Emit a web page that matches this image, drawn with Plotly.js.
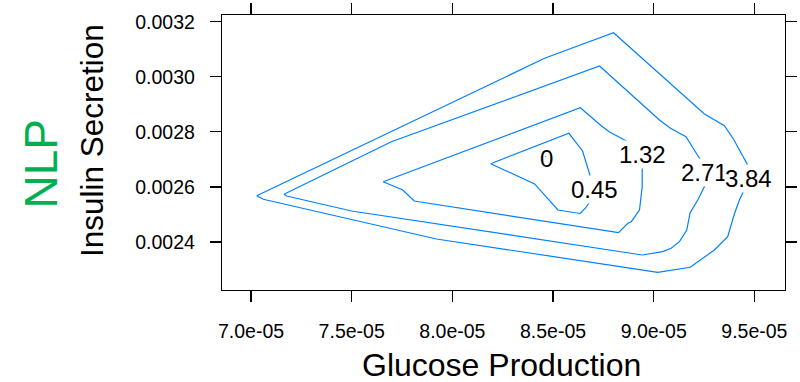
<!DOCTYPE html>
<html>
<head>
<meta charset="utf-8">
<script src="https://cdn.plot.ly/plotly-3.0.1.min.js"></script>
<style>html,body{margin:0;padding:0;background:#fff;}#chart{width:800px;height:382px;}</style>
</head>
<body>
<div id="chart"></div>
<script>
// Contour levels and their path vertices (Glucose Production x, Insulin Secretion y)
const levels = ["0", "0.45", "1.32", "2.71", "3.84"];

const c000_x = [8.4630e-5, 8.4645e-5, 8.4630e-5, 8.4630e-5];
const c000_y = [0.0027112, 0.0027099, 0.0027085, 0.0027112];

const c045_x = [8.1904e-5, 8.5788e-5, 8.6467e-5, 8.6666e-5, 8.6914e-5, 8.7013e-5, 8.6938e-5, 8.6814e-5, 8.6616e-5, 8.6343e-5, 8.5242e-5, 8.4086e-5, 8.1904e-5];
const c045_y = [0.0026845, 0.0027949, 0.0027306, 0.0026835, 0.0026326, 0.0026000, 0.0025637, 0.0025455, 0.0025237, 0.0025038, 0.0025165, 0.0026109, 0.0026845];

const c132_x = [7.6562e-5, 8.6353e-5, 8.7410e-5, 8.7806e-5, 8.8550e-5, 8.9379e-5, 8.9428e-5, 8.9428e-5, 8.9294e-5, 8.8883e-5, 8.8714e-5, 8.8253e-5, 7.8105e-5, 7.7539e-5, 7.6562e-5];
const c132_y = [0.0026192, 0.0028878, 0.0028214, 0.0027996, 0.0027706, 0.0027343, 0.0026980, 0.0026010, 0.0025165, 0.0024740, 0.0024682, 0.0024341, 0.0025491, 0.0025891, 0.0026192];

const c271_x = [7.1637e-5, 7.6969e-5, 8.7310e-5, 9.0286e-5, 9.0832e-5, 9.1601e-5, 9.2171e-5, 9.2603e-5, 9.2603e-5, 9.2186e-5, 9.1809e-5, 9.1740e-5, 9.1640e-5, 9.1278e-5, 9.0867e-5, 9.0450e-5, 8.9428e-5, 7.4995e-5, 7.1771e-5, 7.1637e-5];
const c271_y = [0.0025735, 0.0027644, 0.0030392, 0.0028432, 0.0028130, 0.0027825, 0.0027161, 0.0026678, 0.0026134, 0.0025528, 0.0025067, 0.0024776, 0.0024439, 0.0024014, 0.0023774, 0.0023651, 0.0023531, 0.0025128, 0.0025673, 0.0025735];

const c384_x = [7.0283e-5, 8.4582e-5, 8.8005e-5, 9.2518e-5, 9.3510e-5, 9.3957e-5, 9.4666e-5, 9.4666e-5, 9.4587e-5, 9.4254e-5, 9.4006e-5, 9.3674e-5, 9.3014e-5, 9.1809e-5, 9.0202e-5, 7.9211e-5, 7.0610e-5, 7.0283e-5];
const c384_y = [0.0025684, 0.0030671, 0.0031601, 0.0028650, 0.0028225, 0.0027742, 0.0026798, 0.0026373, 0.0026036, 0.0025528, 0.0025020, 0.0024195, 0.0023713, 0.0023085, 0.0022903, 0.0024112, 0.0025553, 0.0025684];

// Label anchor points on the contours
const labelX = [8.4657e-5, 8.7062e-5, 8.9443e-5, 9.2543e-5, 9.4701e-5];
const labelY = [0.0027052, 0.0025891, 0.0027161, 0.0026508, 0.0026308];

// Axis ticks
const xTickVals = [7.0e-5, 7.5e-5, 8.0e-5, 8.5e-5, 9.0e-5, 9.5e-5];
const xTickText = ["7.0e-05", "7.5e-05", "8.0e-05", "8.5e-05", "9.0e-05", "9.5e-05"];
const yTickVals = [0.0024, 0.0026, 0.0028, 0.0030, 0.0032];
const yTickText = ["0.0024", "0.0026", "0.0028", "0.0030", "0.0032"];

const xTitle = "Glucose Production";
const yTitle = "Insulin Secretion";
const panelTitle = "NLP";

const FONT = "Liberation Sans, Arial, Helvetica, sans-serif";
const LINE = "#0080ff";

const paths = [[c000_x, c000_y], [c045_x, c045_y], [c132_x, c132_y], [c271_x, c271_y], [c384_x, c384_y]];
const traces = paths.map((p, i) => ({
  type: "scatter", mode: "lines", x: p[0], y: p[1],
  line: {color: LINE, width: 1.2}, hoverinfo: "skip", showlegend: false, name: levels[i]
}));

const W = 800, H = 382, ML = 222, MR = 15, MT = 15, MB = 92;
const pw = W - ML - MR, ph = H - MT - MB;
const px2paper = (px) => (px - ML) / pw;
const py2paper = (py) => (H - MB - py) / ph;

const annotations = levels.map((t, i) => ({
  x: labelX[i], y: labelY[i], xref: "x", yref: "y", text: t, showarrow: false,
  xanchor: "center", yanchor: "middle",
  font: {family: FONT, size: 24, color: "#000"},
  bgcolor: i === 0 ? "rgba(0,0,0,0)" : "#ffffff", borderpad: 0
}));
annotations.push({
  x: px2paper(501.5), y: py2paper(364.5), xref: "paper", yref: "paper", text: xTitle,
  showarrow: false, xanchor: "center", yanchor: "middle", borderpad: 0,
  font: {family: FONT, size: 32, color: "#000"}
});
annotations.push({
  x: px2paper(92), y: py2paper(141), xref: "paper", yref: "paper", text: yTitle,
  showarrow: false, xanchor: "center", yanchor: "middle", textangle: -90,
  font: {family: FONT, size: 31.5, color: "#000"}
});
annotations.push({
  x: px2paper(40.5), y: py2paper(164), xref: "paper", yref: "paper", text: panelTitle,
  showarrow: false, xanchor: "center", yanchor: "middle", textangle: -90,
  font: {family: FONT, size: 46, color: "#00b050"}
});

const axisCommon = {
  showline: true, linecolor: "#000", linewidth: 1.2, mirror: "ticks",
  ticks: "outside", ticklen: 11, tickwidth: 1.2, tickcolor: "#000",
  showgrid: false, zeroline: false, tickmode: "array",
  tickfont: {family: FONT, size: 19.5, color: "#000"}
};

const layout = {
  width: W, height: H,
  margin: {l: ML, r: MR, t: MT, b: MB, pad: 0},
  paper_bgcolor: "#fff", plot_bgcolor: "#fff",
  showlegend: false,
  xaxis: Object.assign({}, axisCommon, {
    range: [6.856e-5, 9.652e-5], tickvals: xTickVals, ticktext: xTickText, ticklabelstandoff: 12
  }),
  yaxis: Object.assign({}, axisCommon, {
    range: [0.002226, 0.0032243], tickvals: yTickVals, ticktext: yTickText, ticklabelstandoff: 11
  }),
  annotations: annotations
};

Plotly.newPlot("chart", traces, layout, {displayModeBar: false, staticPlot: true});
</script>
</body>
</html>
